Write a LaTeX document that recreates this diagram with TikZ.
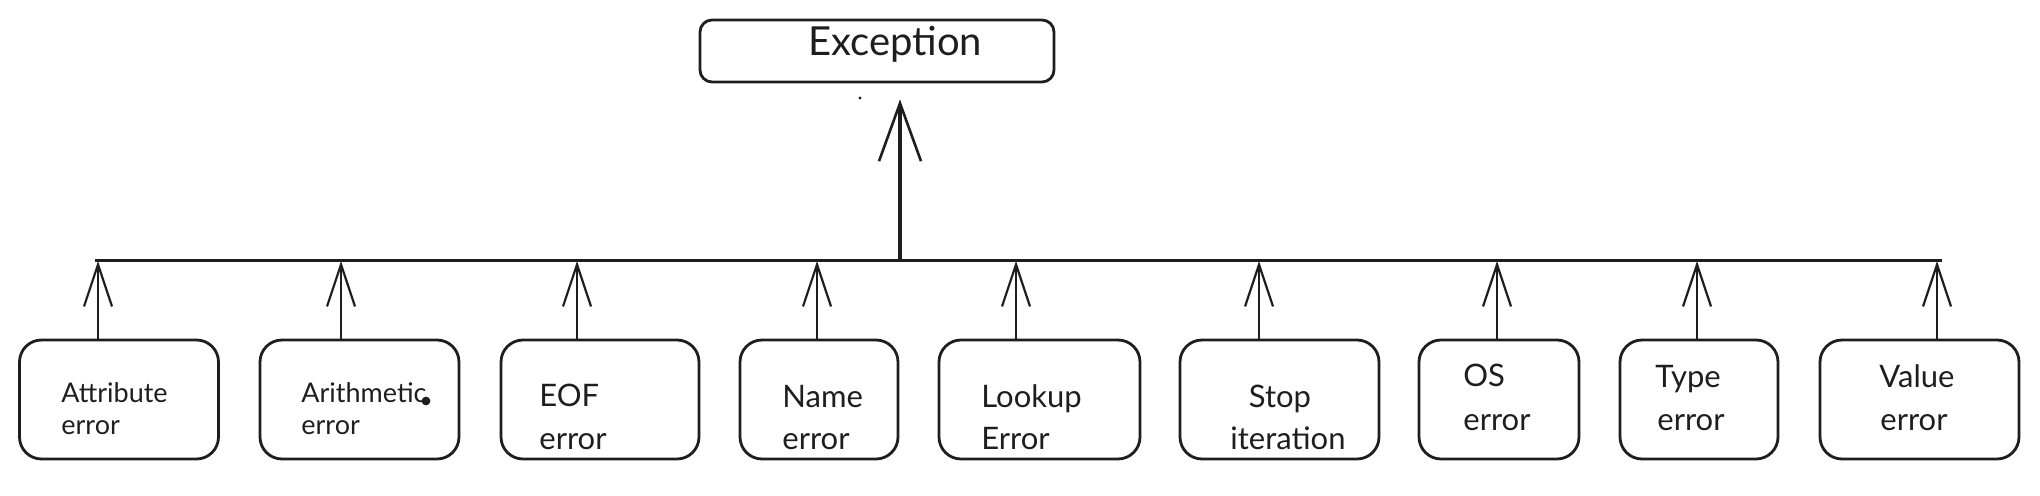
\documentclass[tikz,border=0pt]{standalone}
\usepackage{fontspec}
\setmainfont{Lato}
\usetikzlibrary{arrows.meta}
\definecolor{ink}{HTML}{1E1E1E}
\tikzset{
  box/.style={draw=ink, line width=1.4pt, rounded corners=11pt, inner sep=0pt, minimum height=59.5pt},
  topbox/.style={draw=ink, line width=1.4pt, rounded corners=6pt, inner sep=0pt, minimum width=177pt, minimum height=31pt},
  lbl/.style={inner sep=0pt, anchor=base west, text=ink, font=\fontsize{15.5}{18}\selectfont},
  lblsm/.style={lbl, font=\fontsize{13.5}{16}\selectfont},
  lbltop/.style={lbl, font=\fontsize{20}{24}\selectfont},
  arr/.style={draw=ink, line width=1.2pt, -{Straight Barb[length=21pt,width=14pt,line width=1.1pt]}},
  mainarr/.style={draw=ink, line width=1.6pt, -{Straight Barb[length=29pt,width=21pt,line width=1.3pt]}},
  bar/.style={draw=ink, line width=1.5pt},
  blot/.style={fill=ink, draw=none}
}
\begin{document}
\begin{tikzpicture}[x=0.5pt,y=-0.5pt]
\useasboundingbox (0,0) rectangle (2040,496);
% top box
\node[topbox] (exc) at (877,51) {};
\node[lbltop] (excT) at (808,56) {Exception};
% bottom boxes
\node[box, minimum width=99.5pt] (b1) at (119,399.5) {};
\node[box, minimum width=99.5pt] (b2) at (359.5,399.5) {};
\node[box, minimum width=99pt]   (b3) at (600,399.5) {};
\node[box, minimum width=79pt]   (b4) at (819,399.5) {};
\node[box, minimum width=100.5pt] (b5) at (1039.5,399.5) {};
\node[box, minimum width=99.5pt] (b6) at (1279.5,399.5) {};
\node[box, minimum width=80pt]   (b7) at (1499,399.5) {};
\node[box, minimum width=79pt]   (b8) at (1699,399.5) {};
\node[box, minimum width=99.5pt] (b9) at (1919.5,399.5) {};
% labels
\node[lblsm] (t1a) at (61,403) {Attribute};
\node[lblsm] (t1b) at (61,435) {error};
\node[lblsm] (t2a) at (301,403) {Arithmetic};
\node[lblsm] (t2b) at (301,435) {error};
\node[lbl] (t3a) at (539,407) {EOF};
\node[lbl] (t3b) at (539,450) {error};
\node[lbl] (t4a) at (782,408) {Name};
\node[lbl] (t4b) at (782,450) {error};
\node[lbl] (t5a) at (981,408) {Lookup};
\node[lbl] (t5b) at (981,450) {Error};
\node[lbl, anchor=base] (t6a) at (1280,408) {Stop};
\node[lbl, anchor=base] (t6b) at (1288,450) {iteration};
\node[lbl] (t7a) at (1463,387) {OS};
\node[lbl] (t7b) at (1463,431) {error};
\node[lbl] (t8a) at (1655,388) {Type};
\node[lbl] (t8b) at (1657,431) {error};
\node[lbl] (t9a) at (1879,388) {Value};
\node[lbl] (t9b) at (1880,431) {error};
% bar
\coordinate (barL) at (95,261);
\coordinate (barR) at (1942,261);
\coordinate (join) at (900,261);
\draw[bar] (barL) -- (barR);
% main arrow
\coordinate (mtip) at ([xshift=11.5pt,yshift=-8pt]exc.south);
\draw[mainarr] (join) -- (mtip);
% child arrows
\coordinate (a1) at ([xshift=-10.5pt]b1.north);
\coordinate (a2) at ([xshift=-9.25pt]b2.north);
\coordinate (a3) at ([xshift=-11.5pt]b3.north);
\coordinate (a4) at ([xshift=-1pt]b4.north);
\coordinate (a5) at ([xshift=-11.75pt]b5.north);
\coordinate (a6) at ([xshift=-10.25pt]b6.north);
\coordinate (a7) at ([xshift=-1pt]b7.north);
\coordinate (a8) at ([xshift=-1pt]b8.north);
\coordinate (a9) at ([xshift=8.75pt]b9.north);
\foreach \i in {1,...,9} {
  \draw[arr] (a\i) -- (a\i |- barL);
}
% stray marks
\coordinate (blotA) at ([xshift=-0.5pt,yshift=1pt]t2a.base east);
\fill[blot] (blotA) circle (2.2pt);
\fill[blot] (860,98) circle (0.8pt);
\end{tikzpicture}
\end{document}
